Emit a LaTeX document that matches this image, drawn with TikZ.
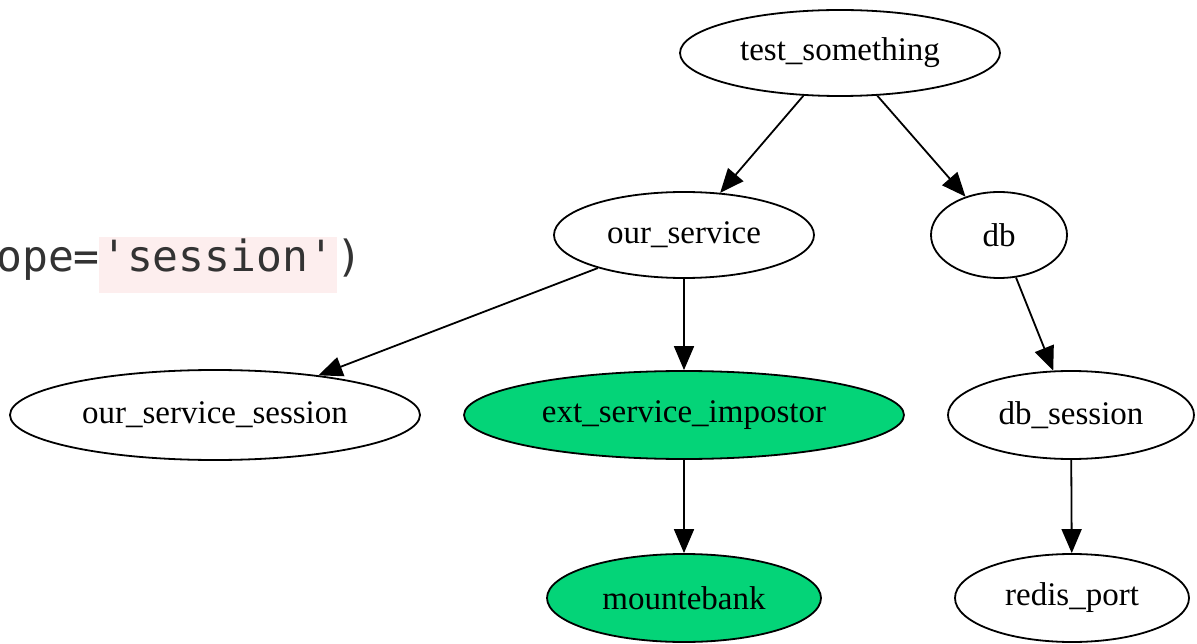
\documentclass[tikz,border=0pt]{standalone}
\usepackage{fontspec}
\setmainfont{Liberation Serif}
\newfontfamily\codefont{DejaVu Sans Mono}
\usetikzlibrary{shapes.geometric,arrows.meta}
\definecolor{nodegreen}{RGB}{4,212,120}
\definecolor{codegray}{RGB}{51,51,51}
\definecolor{codepink}{RGB}{253,238,238}
\tikzset{
  gnode/.style={ellipse, draw=black, line width=1.8pt, inner sep=0pt,
    font=\fontsize{33}{36}\selectfont, text=black},
  greennode/.style={gnode, fill=nodegreen},
  edge/.style={draw=black, line width=1.8pt, -{Triangle[length=24pt,width=20pt]}},
  codetext/.style={font=\codefont\fontsize{43}{47}\selectfont, text=codegray, inner sep=0pt},
}
\begin{document}
\begin{tikzpicture}[x=1pt,y=-1pt]
\useasboundingbox (0,0) rectangle (1197,644);
\fill[white] (0,0) rectangle (1197,644);
% code fragment
\fill[codepink] (99,237) rectangle (337,293);
\node[codetext, anchor=base east] (c1) at (100,272) {ope=};
\node[codetext, anchor=base west] (c2) at (101,272) {'session'};
\node[codetext, anchor=base west] (c3) at (336,272) {)};
% nodes
\node[gnode, minimum width=320pt, minimum height=86pt] (ts) at (840,53) {test\_something};
\node[gnode, minimum width=260pt, minimum height=86pt] (os) at (684,235) {our\_service};
\node[gnode, minimum width=136pt, minimum height=86pt] (db) at (999,235) {db};
\node[gnode, minimum width=410pt, minimum height=90pt] (oss) at (215,415) {our\_service\_session};
\node[greennode, minimum width=440pt, minimum height=88pt] (esi) at (684,415) {ext\_service\_impostor};
\node[gnode, minimum width=246pt, minimum height=88pt] (dbs) at (1071,415) {db\_session};
\node[greennode, minimum width=274pt, minimum height=88pt] (mb) at (684,598) {mountebank};
\node[gnode, minimum width=234pt, minimum height=88pt] (rp) at (1072,598) {redis\_port};
% edges
\draw[edge] (ts) -- (os);
\draw[edge] (ts) -- (db);
\draw[edge] (os) -- (oss);
\draw[edge] (os) -- (esi);
\draw[edge] (db) -- (dbs);
\draw[edge] (esi) -- (mb);
\draw[edge] (dbs) -- (rp);
\end{tikzpicture}
\end{document}
